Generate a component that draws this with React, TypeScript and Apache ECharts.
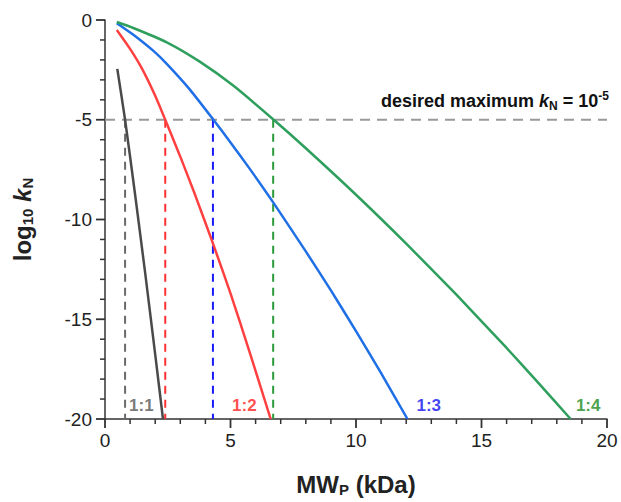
import React, { useEffect, useRef } from "react";
import * as echarts from "echarts";

const ratio11X = [0.49, 0.8, 1.2, 1.6, 2.0, 2.31];
const ratio11Y = [-2.45, -5.0, -8.76, -12.68, -16.76, -20.0];

const ratio12X = [0.47, 1.0, 1.5, 2.0, 2.4, 3.0, 3.6, 4.3, 5.0, 5.8, 6.6];
const ratio12Y = [-0.5, -1.45, -2.5, -3.8, -5.0, -6.85, -8.8, -11.2, -13.7, -16.8, -20.0];

const ratio13X = [0.47, 1.13, 1.93, 2.46, 3.39, 4.32, 5.0, 5.79, 6.7, 8.0, 9.0, 10.0, 11.0, 12.05];
const ratio13Y = [-0.16, -0.74, -1.55, -2.2, -3.5, -5.0, -6.14, -7.5, -9.14, -11.6, -13.55, -15.6, -17.7, -20.0];

const ratio14X = [0.47, 1.13, 2.46, 3.79, 5.12, 6.72, 8.0, 10.0, 12.0, 14.0, 16.0, 17.3, 18.55];
const ratio14Y = [-0.1, -0.4, -1.12, -2.1, -3.3, -5.0, -6.43, -8.76, -11.21, -13.77, -16.44, -18.24, -20.0];

const thresholdY = -5;
const crossX = [0.8, 2.4, 4.3, 6.7];
const ratioLabels = ["1:1", "1:2", "1:3", "1:4"];
const ratioLabelX = [1.45, 5.55, 12.9, 19.25];
const ratioLabelY = -19.3;

const xTicks = [0, 20, 5];
const yTicks = [-20, 0, 5];
const xMajorTicks = [0, 5, 10, 15, 20];
const xMinorTicks = [1, 2, 3, 4, 6, 7, 8, 9, 11, 12, 13, 14, 16, 17, 18, 19];
const yMajorTicks = [-20, -15, -10, -5, 0];
const yMinorTicks = [-19, -18, -17, -16, -14, -13, -12, -11, -9, -8, -7, -6, -4, -3, -2, -1];

const FONT = 'Arial, "Liberation Sans", sans-serif';

const lineColors = ["#4a4a4a", "#ff4040", "#1f6fe6", "#2e9f5c"];
const dashColors = ["#6a6a6a", "#ff3030", "#1a1aff", "#2a9a3a"];
const labelColors = ["#555555", "#ff2020", "#1010ee", "#1a8a1a"];

function zip(xs: number[], ys: number[]) {
  return xs.map((x, i) => [x, ys[i]]);
}

export default function App() {
  const ref = useRef<HTMLDivElement>(null);
  useEffect(() => {
    if (!ref.current) return;
    const chart = echarts.init(ref.current, undefined, { renderer: "svg" });
    const curves = [
      zip(ratio11X, ratio11Y),
      zip(ratio12X, ratio12Y),
      zip(ratio13X, ratio13Y),
      zip(ratio14X, ratio14Y),
    ];
    const series: any[] = [];
    series.push({
      type: "line",
      data: [
        [xTicks[0], thresholdY],
        [xTicks[1], thresholdY],
      ],
      symbol: "none",
      lineStyle: { color: "#999999", width: 2, type: [10, 7] },
      z: 1,
    });
    crossX.forEach((x, i) => {
      series.push({
        type: "line",
        data: [
          [x, thresholdY],
          [x, yTicks[0]],
        ],
        symbol: "none",
        lineStyle: { color: dashColors[i], width: 2, type: [8, 6] },
        z: 2,
      });
    });
    curves.forEach((d, i) => {
      series.push({
        type: "line",
        data: d,
        symbol: "none",
        smooth: 0.2,
        lineStyle: { color: lineColors[i], width: 2.5 },
        z: 3,
      });
    });
    series.push({
      type: "scatter",
      symbolSize: 0,
      data: ratioLabels.map((t, i) => ({
        value: [ratioLabelX[i], ratioLabelY],
        label: {
          show: true,
          position: "inside",
          formatter: t,
          color: labelColors[i],
          fontSize: 17,
          fontWeight: "bold",
          fontFamily: FONT,
        },
      })),
      z: 4,
    });

    // outward tick marks, placed through the axes' own scales
    const tickData: number[][] = [];
    xMajorTicks.forEach((v) => tickData.push([v, yTicks[0], 0]));
    xMinorTicks.forEach((v) => tickData.push([v, yTicks[0], 1]));
    yMajorTicks.forEach((v) => tickData.push([xTicks[0], v, 2]));
    yMinorTicks.forEach((v) => tickData.push([xTicks[0], v, 3]));
    series.push({
      type: "custom",
      clip: false,
      silent: true,
      data: tickData,
      z: 5,
      renderItem: (params: any, api: any) => {
        const p = api.coord([api.value(0), api.value(1)]);
        const kind = api.value(2);
        const major = kind === 0 || kind === 2;
        const len = major ? 9 : 5;
        const shape =
          kind < 2
            ? { x1: p[0], y1: p[1], x2: p[0], y2: p[1] + len }
            : { x1: p[0], y1: p[1], x2: p[0] - len, y2: p[1] };
        return {
          type: "line",
          shape,
          style: { stroke: "#333333", lineWidth: major ? 1.8 : 1.5 },
        };
      },
    });

    const axisCommon = () => ({
      axisLine: { show: true, onZero: false, lineStyle: { color: "#333333", width: 1.5 } },
      axisTick: { show: false },
      minorTick: { show: false },
      splitLine: { show: false },
      minorSplitLine: { show: false },
    });

    chart.setOption({
      animation: false,
      grid: { left: 105, right: 14, top: 20, bottom: 74 },
      xAxis: {
        type: "value",
        min: xTicks[0],
        max: xTicks[1],
        interval: xTicks[2],
        name: "MW{sub|P} (kDa)",
        nameLocation: "middle",
        nameGap: 53,
        nameTextStyle: {
          fontSize: 24,
          fontWeight: "bold",
          fontFamily: FONT,
          color: "#222",
          rich: {
            sub: { fontSize: 15, fontWeight: "bold", fontFamily: FONT, color: "#222", padding: [10, 0, 0, 0] },
          },
        },
        ...axisCommon(),
        axisLabel: { show: true, fontSize: 19, color: "#222", fontFamily: FONT, margin: 12 },
      },
      yAxis: {
        type: "value",
        min: yTicks[0],
        max: yTicks[1],
        interval: yTicks[2],
        name: "log{sub|10} {it|k}{sub|N}",
        nameLocation: "middle",
        nameGap: 70,
        nameTextStyle: {
          fontSize: 24,
          fontWeight: "bold",
          fontFamily: FONT,
          color: "#222",
          rich: {
            sub: { fontSize: 15, fontWeight: "bold", fontFamily: FONT, color: "#222", padding: [10, 0, 0, 0] },
            it: { fontSize: 24, fontWeight: "bold", fontStyle: "italic", fontFamily: FONT, color: "#222" },
          },
        },
        ...axisCommon(),
        axisLabel: { show: true, fontSize: 19, color: "#222", fontFamily: FONT, margin: 13 },
      },
      graphic: [
        {
          type: "text",
          right: 12,
          top: 90,
          style: {
            text: "desired maximum {it|k}{sub|N} = 10{sup|-5}",
            fontSize: 18,
            fontWeight: "bold",
            fontFamily: FONT,
            fill: "#111",
            rich: {
              it: { fontSize: 18, fontWeight: "bold", fontStyle: "italic", fontFamily: FONT, fill: "#111" },
              sub: { fontSize: 12, fontWeight: "bold", fontFamily: FONT, fill: "#111", padding: [9, 0, 0, 0] },
              sup: { fontSize: 12, fontWeight: "bold", fontFamily: FONT, fill: "#111", padding: [0, 0, 10, 0] },
            },
          },
        },
      ],
      series,
    });
    return () => chart.dispose();
  }, []);
  return (
    <div
      ref={ref}
      style={{ position: "fixed", left: 0, top: 0, width: 621, height: 502, background: "#fff" }}
    />
  );
}
